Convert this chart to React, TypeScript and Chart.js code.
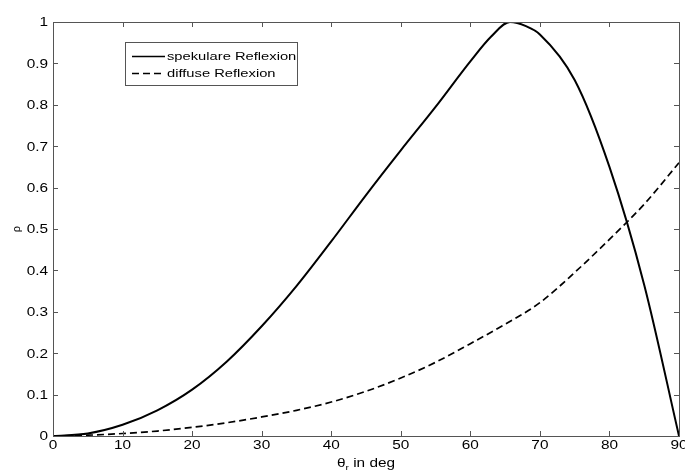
import React, { useEffect, useRef } from "react";
import { Chart, registerables } from "chart.js";

Chart.register(...registerables);

// Spekulare Reflexion: angle (deg) and reflectance
const specAngles = [0, 5, 10, 15, 20, 25, 30, 35, 40, 45, 50, 55, 60, 63, 65.7, 68, 70, 75, 80, 85, 90];
const specValues = [0, 0.006, 0.027, 0.062, 0.112, 0.18, 0.265, 0.362, 0.47, 0.582, 0.69, 0.795, 0.905, 0.965, 1.0, 0.99, 0.97, 0.86, 0.65, 0.365, 0];

// Diffuse Reflexion
const diffAngles = [0, 5, 10, 15, 20, 25, 30, 35, 40, 45, 50, 55, 60, 65, 70, 75, 80, 85, 90];
const diffValues = [0, 0.002, 0.006, 0.012, 0.021, 0.032, 0.046, 0.062, 0.082, 0.108, 0.14, 0.178, 0.223, 0.27, 0.322, 0.395, 0.475, 0.56, 0.66];

const seriesLabels = ["spekulare Reflexion", "diffuse Reflexion"];
const xTitleMain = "θ";
const xTitleSub = "r";
const xTitleRest = " in deg";
const yTitle = "ρ";

const FONT = "'Liberation Sans', Arial, Helvetica, sans-serif";
const AXIS_COLOR = "#555555";
const STRETCH = 1.28;

function stretchedText(ctx: CanvasRenderingContext2D, text: string, x: number, y: number, align: CanvasTextAlign, baseline: CanvasTextBaseline) {
  ctx.save();
  ctx.translate(x, y);
  ctx.scale(STRETCH, 1);
  ctx.textAlign = align;
  ctx.textBaseline = baseline;
  ctx.fillText(text, 0, 0);
  ctx.restore();
}

const decorPlugin = {
  id: "matlabDecor",
  afterDraw(chart: any) {
    const ctx = chart.ctx as CanvasRenderingContext2D;
    const { left, right, top, bottom } = chart.chartArea;
    const xs = chart.scales.x;
    const ys = chart.scales.y;
    ctx.save();
    // box
    ctx.strokeStyle = AXIS_COLOR;
    ctx.lineWidth = 1;
    ctx.strokeRect(Math.round(left) + 0.5, Math.round(top) + 0.5, Math.round(right - left), Math.round(bottom - top));
    // inward ticks
    const tl = 5;
    ctx.beginPath();
    xs.ticks.forEach((t: any) => {
      const px = Math.round(xs.getPixelForValue(t.value)) + 0.5;
      ctx.moveTo(px, bottom);
      ctx.lineTo(px, bottom - tl);
      ctx.moveTo(px, top);
      ctx.lineTo(px, top + tl);
    });
    ys.ticks.forEach((t: any) => {
      const py = Math.round(ys.getPixelForValue(t.value)) + 0.5;
      ctx.moveTo(left, py);
      ctx.lineTo(left + tl, py);
      ctx.moveTo(right, py);
      ctx.lineTo(right - tl, py);
    });
    ctx.stroke();

    // tick labels (stretched horizontally like the reference)
    ctx.fillStyle = "#000";
    ctx.font = `12px ${FONT}`;
    xs.ticks.forEach((t: any) => {
      const px = xs.getPixelForValue(t.value);
      stretchedText(ctx, String(t.label), px, bottom + 4, "center", "top");
    });
    ys.ticks.forEach((t: any) => {
      const py = ys.getPixelForValue(t.value);
      stretchedText(ctx, String(t.label), left - 5, py + 1, "right", "middle");
    });

    // x title with subscript
    const mainFont = `12px ${FONT}`;
    const subFont = `8px ${FONT}`;
    ctx.font = mainFont;
    const wMain = ctx.measureText(xTitleMain).width * STRETCH;
    const wRest = ctx.measureText(xTitleRest).width * STRETCH;
    ctx.font = subFont;
    const wSub = ctx.measureText(xTitleSub).width * STRETCH;
    const total = wMain + wSub + wRest;
    const cx = (left + right) / 2;
    let x0 = cx - total / 2;
    const baseY = bottom + 31;
    ctx.font = mainFont;
    stretchedText(ctx, xTitleMain, x0, baseY, "left", "alphabetic");
    x0 += wMain;
    ctx.font = subFont;
    stretchedText(ctx, xTitleSub, x0, baseY + 3, "left", "alphabetic");
    x0 += wSub;
    ctx.font = mainFont;
    stretchedText(ctx, xTitleRest, x0, baseY, "left", "alphabetic");

    // y title rotated
    ctx.save();
    ctx.translate(17, (top + bottom) / 2);
    ctx.rotate(-Math.PI / 2);
    ctx.font = `11px ${FONT}`;
    ctx.textAlign = "center";
    ctx.textBaseline = "middle";
    ctx.fillText(yTitle, 0, 0);
    ctx.restore();

    // legend
    const bx = left + 72;
    const by = top + 20;
    const bw = 172;
    const bh = 43;
    ctx.fillStyle = "#fff";
    ctx.fillRect(bx, by, bw, bh);
    ctx.strokeStyle = AXIS_COLOR;
    ctx.lineWidth = 1;
    ctx.strokeRect(Math.round(bx) + 0.5, Math.round(by) + 0.5, bw, bh);
    const rows = [by + 14, by + 31];
    chart.data.datasets.forEach((ds: any, i: number) => {
      const ry = Math.round(rows[i]) + 0.5;
      ctx.strokeStyle = ds.borderColor;
      ctx.lineWidth = 1.5;
      ctx.setLineDash(ds.borderDash || []);
      ctx.beginPath();
      ctx.moveTo(bx + 7, ry);
      ctx.lineTo(bx + 40, ry);
      ctx.stroke();
      ctx.setLineDash([]);
      ctx.fillStyle = "#000";
      ctx.font = `11.5px ${FONT}`;
      stretchedText(ctx, ds.label, bx + 42, ry, "left", "middle");
    });
    ctx.restore();
  },
};

export default function App() {
  const ref = useRef<HTMLCanvasElement>(null);
  useEffect(() => {
    if (!ref.current) return;
    const chart = new Chart(ref.current, {
      type: "scatter",
      data: {
        datasets: [
          {
            label: seriesLabels[0],
            data: specAngles.map((a, i) => ({ x: a, y: specValues[i] })),
            showLine: true,
            borderColor: "#000",
            borderWidth: 2,
            pointRadius: 0,
            cubicInterpolationMode: "monotone",
          } as any,
          {
            label: seriesLabels[1],
            data: diffAngles.map((a, i) => ({ x: a, y: diffValues[i] })),
            showLine: true,
            borderColor: "#000",
            borderWidth: 1.7,
            borderDash: [7, 4],
            pointRadius: 0,
            cubicInterpolationMode: "monotone",
          } as any,
        ],
      },
      options: {
        animation: false,
        responsive: false,
        layout: { padding: { top: 22, right: 6, left: 0, bottom: 0 } },
        plugins: { legend: { display: false }, tooltip: { enabled: false } },
        scales: {
          x: {
            type: "linear",
            min: 0,
            max: 90,
            ticks: { stepSize: 10, display: false },
            grid: { drawOnChartArea: false, drawTicks: false },
            border: { color: AXIS_COLOR },
            afterFit: (s: any) => {
              s.height = 37;
              s.paddingLeft = 0;
              s.paddingRight = 0;
            },
          },
          y: {
            type: "linear",
            min: 0,
            max: 1,
            ticks: {
              stepSize: 0.1,
              display: false,
              callback: (v: any) => (v === 0 ? "0" : v === 1 ? "1" : Number(v).toFixed(1)),
            },
            grid: { drawOnChartArea: false, drawTicks: false },
            border: { color: AXIS_COLOR },
            afterFit: (s: any) => {
              s.width = 53;
              s.paddingTop = 0;
              s.paddingBottom = 0;
            },
          },
        },
      },
      plugins: [decorPlugin],
    });
    return () => chart.destroy();
  }, []);
  return (
    <div style={{ position: "absolute", left: 0, top: 0, width: 685, height: 473, background: "#fff" }}>
      <canvas ref={ref} width={685} height={473} style={{ display: "block" }} />
    </div>
  );
}
